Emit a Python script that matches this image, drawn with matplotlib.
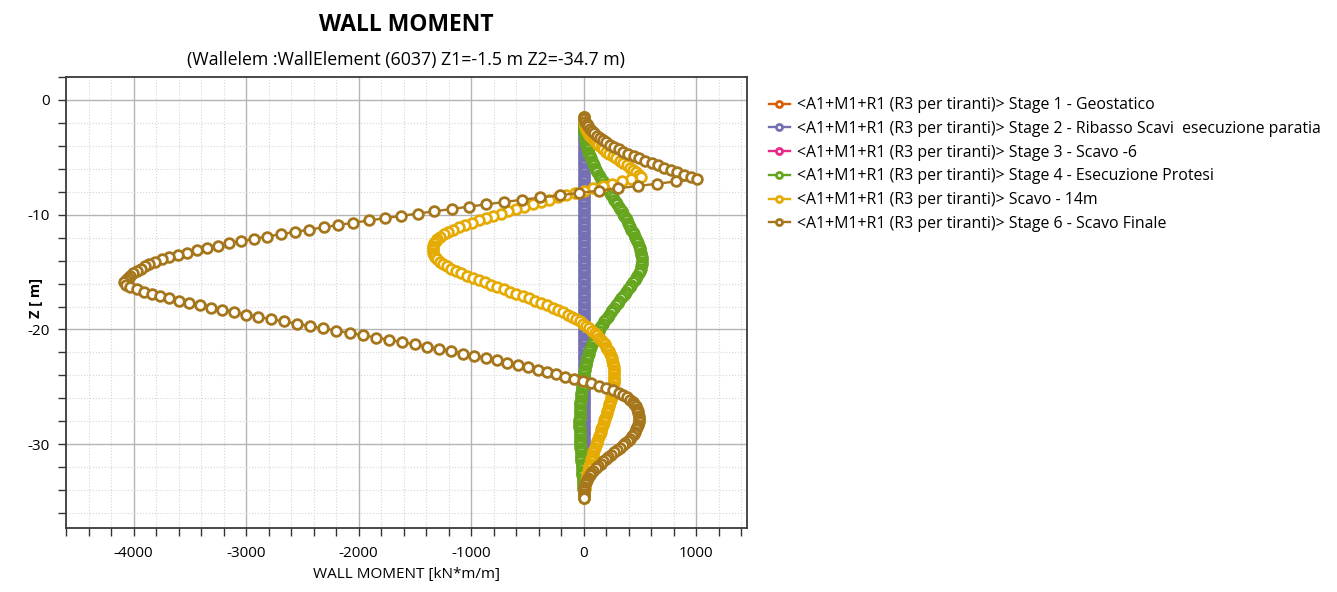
import numpy as np
import matplotlib
matplotlib.use('Agg')
from matplotlib import pyplot as plt
from matplotlib.ticker import MultipleLocator

plt.rcParams['font.family'] = ['Open Sans', 'DejaVu Sans']
plt.rcParams['axes.unicode_minus'] = False

# wall nodes, 0.2 m mesh from Z1 to Z2
depth = np.linspace(-1.5, -34.7, 167)

series_names = [
    '<A1+M1+R1 (R3 per tiranti)> Stage 1 - Geostatico',
    '<A1+M1+R1 (R3 per tiranti)> Stage 2 - Ribasso Scavi  esecuzione paratia',
    '<A1+M1+R1 (R3 per tiranti)> Stage 3 - Scavo -6',
    '<A1+M1+R1 (R3 per tiranti)> Stage 4 - Esecuzione Protesi',
    '<A1+M1+R1 (R3 per tiranti)> Scavo - 14m',
    '<A1+M1+R1 (R3 per tiranti)> Stage 6 - Scavo Finale',
]
series_colors = ['#D95F02', '#7570B3', '#E7298A', '#66A61E', '#E6AB02', '#A6761D']

# moments [kN*m/m] per node
stage1 = []
stage2 = [0] * 167
stage3 = []

stage4 = [
    0, 0, 0, 1, 1, 2, 3, 5, 7, 10,
    14, 19, 24, 29, 35, 41, 48, 55, 62, 70,
    79, 88, 98, 108, 119, 131, 143, 156, 168, 181,
    194, 207, 220, 233, 246, 259, 272, 285, 298, 311,
    324, 337, 349, 361, 372, 383, 393, 403, 413, 423,
    433, 443, 453, 463, 473, 482, 490, 497, 503, 508,
    512, 515, 517, 518, 516, 512, 506, 498, 488, 477,
    465, 452, 438, 423, 408, 393, 378, 362, 347, 331,
    316, 300, 285, 270, 255, 240, 225, 211, 197, 183,
    170, 157, 145, 133, 121, 110, 99, 89, 80, 71,
    63, 56, 49, 43, 37, 32, 27, 22, 18, 14,
    10, 6, 3, 0, -3, -6, -9, -12, -15, -18,
    -21, -24, -26, -28, -30, -32, -34, -35, -36, -37,
    -38, -38, -39, -39, -39, -39, -38, -38, -37, -36,
    -35, -34, -33, -32, -31, -29, -28, -26, -25, -23,
    -22, -20, -18, -17, -15, -13, -12, -10, -9, -7,
    -6, -5, -3, -2, -1, 0, 0,
]

scavo14 = [
    0, 2, 5, 9, 14, 20, 28, 38, 52, 70,
    88, 106, 125, 150, 174, 199, 226, 257, 287, 318,
    349, 380, 410, 440, 466, 488, 505,
    420, 336, 252, 168, 84, 2, -77, -154, -230, -306,
    -381, -455, -528, -600, -670, -739, -806, -871, -934, -995,
    -1053, -1108, -1160, -1207, -1246, -1277, -1300, -1317, -1329, -1336,
    -1338,
    -1339, -1336, -1329, -1318, -1302, -1280, -1252, -1218, -1178, -1134,
    -1087, -1038, -987, -934, -880, -825, -769, -712, -655, -598,
    -541, -485, -430, -377, -326, -277, -230, -186, -144, -105,
    -69, -36, -5, 23, 50, 75, 98, 119, 138, 155,
    171, 185, 198, 210, 221, 231, 240, 247, 253, 258,
    262, 265, 267, 268, 268, 268, 268, 267, 266, 264,
    261, 257, 253, 249, 244, 239, 233, 227, 221, 215,
    208, 202, 196, 190, 184, 177, 170, 163, 156, 149,
    142, 135, 128, 121, 114, 107, 100, 93, 86, 80,
    73, 67, 61, 55, 49, 44, 39, 34, 29, 25,
    21, 17, 13, 10, 7, 4, 2, 1, 0,
]

stage6 = [
    0, 6, 15, 26, 39, 55, 73, 93, 116, 141,
    168, 200, 235, 272, 311, 352, 396, 444, 495, 548,
    602, 658, 714, 771, 830, 890, 950, 1008,
    822, 650, 478, 303, 131, -39, -214, -386, -553, -713,
    -868, -1023, -1175, -1327, -1477, -1623, -1766, -1906, -2047, -2184,
    -2309, -2442, -2567, -2688, -2813, -2932, -3042, -3148, -3249, -3347,
    -3436, -3525, -3605, -3682, -3748, -3807, -3861, -3902, -3938, -3972,
    -4003, -4030, -4053, -4071, -4084,
    -4069, -4029, -3974, -3909, -3839, -3764, -3683, -3597, -3507, -3413,
    -3315, -3214, -3110, -3003, -2893, -2781, -2667, -2551, -2434, -2316,
    -2198, -2080, -1962, -1845, -1729, -1615, -1503, -1393, -1285, -1179,
    -1075, -973, -873, -775, -679, -586, -496, -409, -325, -243,
    -163, -84, -6,
    66, 135, 200, 260, 310, 352, 386, 412, 433, 450,
    463, 473, 480, 485, 488, 490, 490, 488, 484, 477,
    468, 457, 444, 428, 410, 390, 368, 345, 320, 295,
    270, 244, 218, 193, 170, 150, 128, 106, 86, 68,
    52, 38, 27, 18, 11, 6, 3, 1, 0, 0,
    0,
]

all_moments = [stage1, stage2, stage3, stage4, scavo14, stage6]

fig = plt.figure(figsize=(13.37, 5.92), dpi=100)
ax = fig.add_axes([0.0494, 0.108, 0.5093, 0.762])

for name, color, moments in zip(series_names, series_colors, all_moments):
    z = depth[:len(moments)]
    ax.plot(moments, z, color=color, lw=1.7, marker='o', ms=7.0, mew=2.0,
            mfc='white', mec=color, label=name)

ax.set_xlim(-4600, 1450)
ax.set_ylim(-37.3, 2)
ax.xaxis.set_major_locator(MultipleLocator(1000))
ax.xaxis.set_minor_locator(MultipleLocator(200))
ax.yaxis.set_major_locator(MultipleLocator(10))
ax.yaxis.set_minor_locator(MultipleLocator(2))
ax.grid(which='major', color='#b4b4b4', lw=1.0)
ax.grid(which='minor', color='#d6d6d6', lw=0.8, ls=':')
ax.set_axisbelow(True)
ax.tick_params(which='both', direction='out', length=6, width=1, color='#333333',
               labelsize=11, top=False, right=False)
ax.tick_params(axis='x', pad=7)
ax.tick_params(axis='y', pad=6)
for sp in ax.spines.values():
    sp.set_color('#3a3a3a')
    sp.set_linewidth(1.3)

ax.set_xlabel('WALL MOMENT [kN*m/m]', fontsize=11)
ax.xaxis.set_label_coords(0.5, -0.087)
ax.set_ylabel('Z [ m]', fontsize=10.5, fontweight='bold')
ax.yaxis.set_label_coords(-0.034, 0.51)

fig.text(0.304, 0.958, 'WALL MOMENT', ha='center', va='center',
         fontsize=16.5, fontweight='bold')
fig.text(0.304, 0.899, '(Wallelem :WallElement (6037) Z1=-1.5 m Z2=-34.7 m)',
         ha='center', va='center', fontsize=12.8)

fig.legend(loc='upper left', bbox_to_anchor=(0.5645, 0.86), frameon=False,
           fontsize=11.4, handlelength=1.3, handletextpad=0.45, labelspacing=0.49,
           markerscale=0.62)

fig.savefig('out.png', dpi=100)
